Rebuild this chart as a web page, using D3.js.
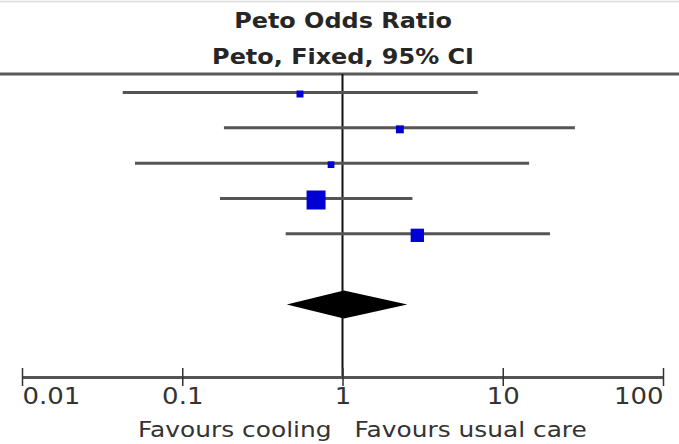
<!DOCTYPE html>
<html>
<head>
<meta charset="utf-8">
<script src="https://cdn.jsdelivr.net/npm/d3@7"></script>
<style>
  html, body { margin: 0; padding: 0; background: #fff; }
  svg { display: block; }
  text { font-family: "DejaVu Sans", "Liberation Sans", sans-serif; }
</style>
</head>
<body>
<svg id="chart" width="679" height="444"></svg>
<script>
// Trial-level Peto odds ratios with 95% CI, and study weights (%)
const peto = [0.543, 2.28, 0.848, 0.684, 2.93];
const ciLower = [0.0425, 0.182, 0.0507, 0.172, 0.442];
const ciUpper = [6.98, 28.2, 14.6, 2.73, 19.7];
const weight = [7.0, 9.0, 6.5, 52.0, 25.5];

// Pooled estimate (Peto, fixed effect)
const pooled = [1.02, 0.449, 2.54];

// Axis ticks and direction labels
const tickValues = [0.01, 0.1, 1, 10, 100];
const tickLabels = ["0.01", "0.1", "1", "10", "100"];
const favourLeft = "Favours cooling";
const favourRight = "Favours usual care";
const titleLines = ["Peto Odds Ratio", "Peto, Fixed, 95% CI"];

const svg = d3.select("#chart");
const W = 679;
const axisY = 377;
const stretch = 1.13;

const x = d3.scaleLog().domain([0.01, 100]).range([22, 663]);
// rows 0..4 are trials, row 5 is a spacer, row 6 is the pooled total
const y = d3.scalePoint().domain(d3.range(7)).range([92.5, 304.5]);
const side = d3.scaleSqrt().domain([0, 52]).range([0, 19]);

// faint top border
svg.append("line").attr("x1", 0).attr("x2", W).attr("y1", 1.5).attr("y2", 1.5)
  .attr("stroke", "#ddd").attr("stroke-width", 1.5);

// header
svg.selectAll("text.title").data(titleLines).join("text")
  .attr("class", "title")
  .attr("transform", (d, i) => `translate(${x(1) + 0.5},${i ? 64 : 28}) scale(1.14,1)`)
  .attr("text-anchor", "middle")
  .attr("font-weight", "bold")
  .attr("font-size", 21)
  .attr("fill", "#262626")
  .text(d => d);

// header rule
svg.append("line").attr("x1", 0).attr("x2", W).attr("y1", 74).attr("y2", 74)
  .attr("stroke", "#5a5a5a").attr("stroke-width", 3);

// line of no effect
svg.append("line")
  .attr("x1", x(1)).attr("x2", x(1)).attr("y1", 74).attr("y2", axisY)
  .attr("stroke", "#111").attr("stroke-width", 2);

// confidence intervals
const rows = peto.map((v, i) => ({ i, v, lo: ciLower[i], hi: ciUpper[i], w: weight[i] }));
svg.selectAll("line.ci").data(rows).join("line")
  .attr("class", "ci")
  .attr("x1", d => x(d.lo)).attr("x2", d => x(d.hi))
  .attr("y1", d => y(d.i)).attr("y2", d => y(d.i))
  .attr("stroke", "#555").attr("stroke-width", 3);

// point estimates, area proportional to weight
svg.selectAll("rect.est").data(rows).join("rect")
  .attr("class", "est")
  .attr("x", d => x(d.v) - side(d.w) / 2)
  .attr("y", d => y(d.i) + 1.5 - side(d.w) / 2)
  .attr("width", d => side(d.w))
  .attr("height", d => side(d.w))
  .attr("fill", "#0000d4");

// pooled diamond
const dy = y(6), half = 14;
svg.append("path")
  .attr("d", `M${x(pooled[1])},${dy} L${x(pooled[0])},${dy - half} L${x(pooled[2])},${dy} L${x(pooled[0])},${dy + half} Z`)
  .attr("fill", "#000");

// log axis
const axis = d3.axisBottom(x)
  .tickValues(tickValues)
  .tickFormat((d, i) => tickLabels[i])
  .tickSizeInner(9)
  .tickSizeOuter(0)
  .tickPadding(12);

const gAxis = svg.append("g").attr("transform", `translate(0,${axisY})`).call(axis);
gAxis.select(".domain").attr("stroke", "#555").attr("stroke-width", 3);
gAxis.selectAll(".tick line")
  .attr("y1", -9).attr("y2", 9)
  .attr("stroke", "#333").attr("stroke-width", 1.5);
gAxis.selectAll(".tick text")
  .attr("font-family", "DejaVu Sans, sans-serif")
  .attr("font-size", 23)
  .attr("fill", "#333")
  .attr("y", 11)
  .attr("dy", "0.71em")
  .attr("transform", `scale(${stretch},1)`)
  .attr("text-anchor", (d, i, n) => i === 0 ? "start" : i === n.length - 1 ? "end" : "middle");

// direction labels
svg.append("text")
  .attr("transform", `translate(${x(1) - 11},437) scale(${stretch},1)`)
  .attr("text-anchor", "end").attr("font-size", 22).attr("fill", "#333")
  .text(favourLeft);
svg.append("text")
  .attr("transform", `translate(${x(1) + 12},437) scale(${stretch},1)`)
  .attr("text-anchor", "start").attr("font-size", 22).attr("fill", "#333")
  .text(favourRight);
</script>
</body>
</html>
